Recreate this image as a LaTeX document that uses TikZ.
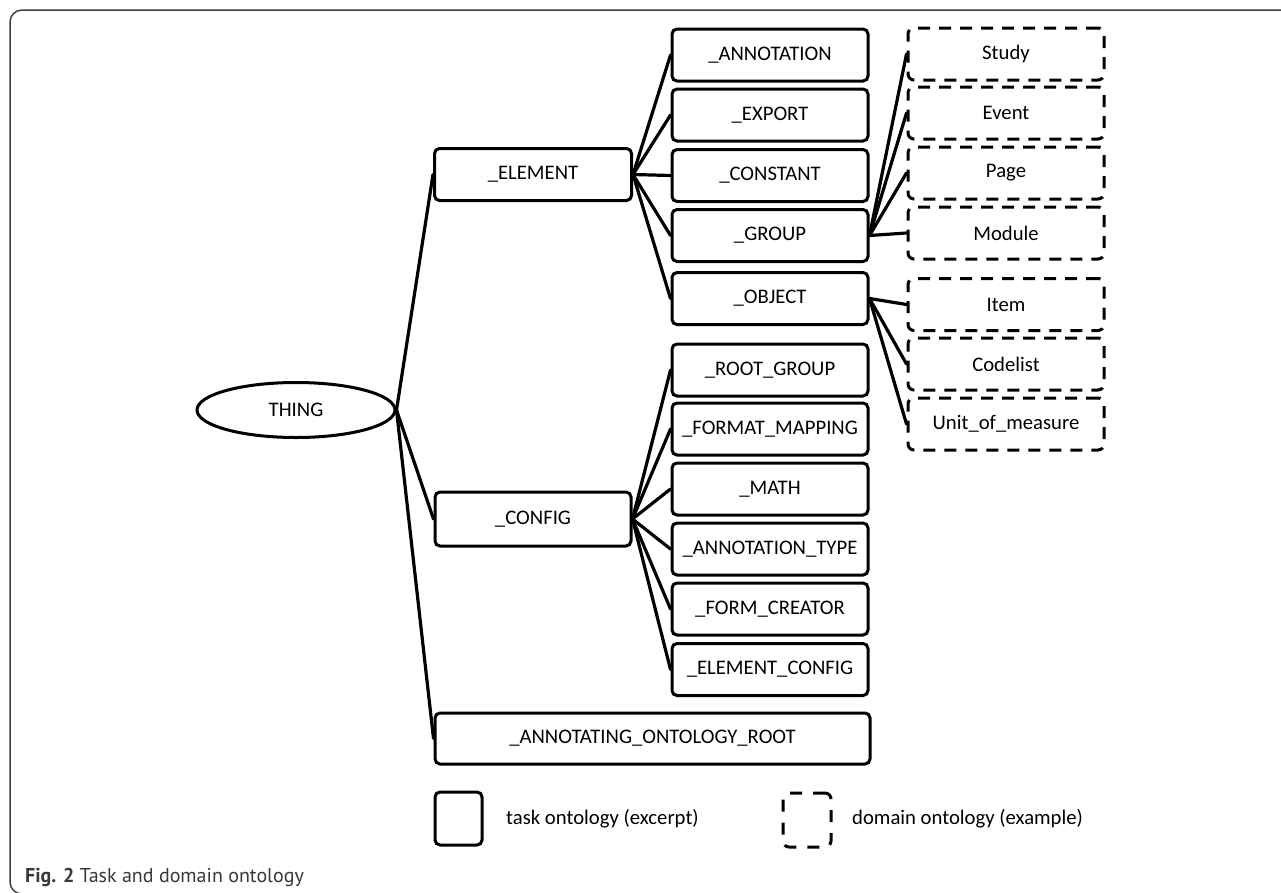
\documentclass[tikz,border=0pt]{standalone}
\usepackage{fontspec}
\setmainfont{Carlito}
\newfontfamily\capfont{PT Sans}
\usetikzlibrary{shapes.geometric}

\tikzset{
  lbl/.style={font=\fontsize{20.7}{24}\selectfont},
  taskbox/.style={lbl, draw, line width=3pt, rounded corners=5pt, fill=white,
    minimum width=196pt, minimum height=52pt, inner sep=0pt},
  domainbox/.style={lbl, draw, line width=3pt, rounded corners=6pt, fill=white,
    dash pattern=on 12pt off 9pt,
    minimum width=196pt, minimum height=52pt, inner sep=0pt},
  link/.style={line width=3.2pt, line cap=round},
  frameline/.style={draw=black!75, line width=1.5pt},
}

\begin{document}
\begin{tikzpicture}[x=1pt, y=-1pt]
\useasboundingbox (0,0) rectangle (1281,892);

% outer figure frame
\draw[frameline, rounded corners=12pt] (1300,10) -- (10,10) -- (10,894) -- (1300,894);

% root
\node[lbl, ellipse, draw, line width=3pt, minimum width=198pt, minimum height=55pt, inner sep=0pt]
  (thing) at (296,410) {THING};

% first level
\node[taskbox, minimum width=197pt] (element) at (533,174.5) {\_ELEMENT};
\node[taskbox, minimum width=196pt, minimum height=54pt] (config) at (533,519) {\_CONFIG};
\node[taskbox, minimum width=435pt, minimum height=51pt] (aroot) at (652.5,738.5) {\_ANNOTATING\_ONTOLOGY\_ROOT};

% children of _ELEMENT
\node[taskbox] (annot)  at (770,55)    {\_ANNOTATION};
\node[taskbox] (export) at (770,115)   {\_EXPORT};
\node[taskbox] (const)  at (770,175.5) {\_CONSTANT};
\node[taskbox] (group)  at (770,235.5) {\_GROUP};
\node[taskbox] (object) at (770,298.5) {\_OBJECT};

% children of _CONFIG
\node[taskbox] (rootgrp) at (770,370)   {\_ROOT\_GROUP};
\node[taskbox] (fmtmap)  at (770,429)   {\_FORMAT\_MAPPING};
\node[taskbox] (math)    at (770,489)   {\_MATH};
\node[taskbox] (antype)  at (770,549)   {\_ANNOTATION\_TYPE};
\node[taskbox] (formcr)  at (770,609)   {\_FORM\_CREATOR};
\node[taskbox] (elcfg)   at (770,669.5) {\_ELEMENT\_CONFIG};

% domain ontology examples
\node[domainbox] (study)    at (1006,54)    {Study};
\node[domainbox] (event)    at (1006,113)   {Event};
\node[domainbox] (page)     at (1006,173)   {Page};
\node[domainbox] (module)   at (1006,233)   {Module};
\node[domainbox] (item)     at (1006,304.5) {Item};
\node[domainbox] (codelist) at (1006,364)   {Codelist};
\node[domainbox] (unit)     at (1006,424)   {Unit\_of\_measure};

% connectors
\foreach \c in {element,config,aroot}
  \draw[link] (thing.east) -- (\c.west);
\foreach \c in {annot,export,const,group,object}
  \draw[link] (element.east) -- (\c.west);
\foreach \c in {rootgrp,fmtmap,math,antype,formcr,elcfg}
  \draw[link] (config.east) -- (\c.west);
\foreach \c in {study,event,page,module}
  \draw[link] (group.east) -- (\c.west);
\foreach \c in {item,codelist,unit}
  \draw[link] (object.east) -- (\c.west);

% legend
\node[taskbox, minimum width=47pt, minimum height=53pt] (legtask) at (458.5,818.5) {};
\node[lbl, anchor=west, inner sep=0pt] (legtasktxt) at (506,818.5) {task ontology (excerpt)};
\node[domainbox, minimum width=48pt, minimum height=54pt, dash pattern=on 12pt off 11pt] (legdom) at (807,820) {};
\node[lbl, anchor=west, inner sep=0pt] (legdomtxt) at (852,818.5) {domain ontology (example)};

% caption
\node[anchor=base west, inner sep=0pt, text=black!78, font=\capfont\fontsize{20}{24}\selectfont]
  (caption) at (25,882) {\textbf{Fig. 2} Task and domain ontology};
\end{tikzpicture}
\end{document}
